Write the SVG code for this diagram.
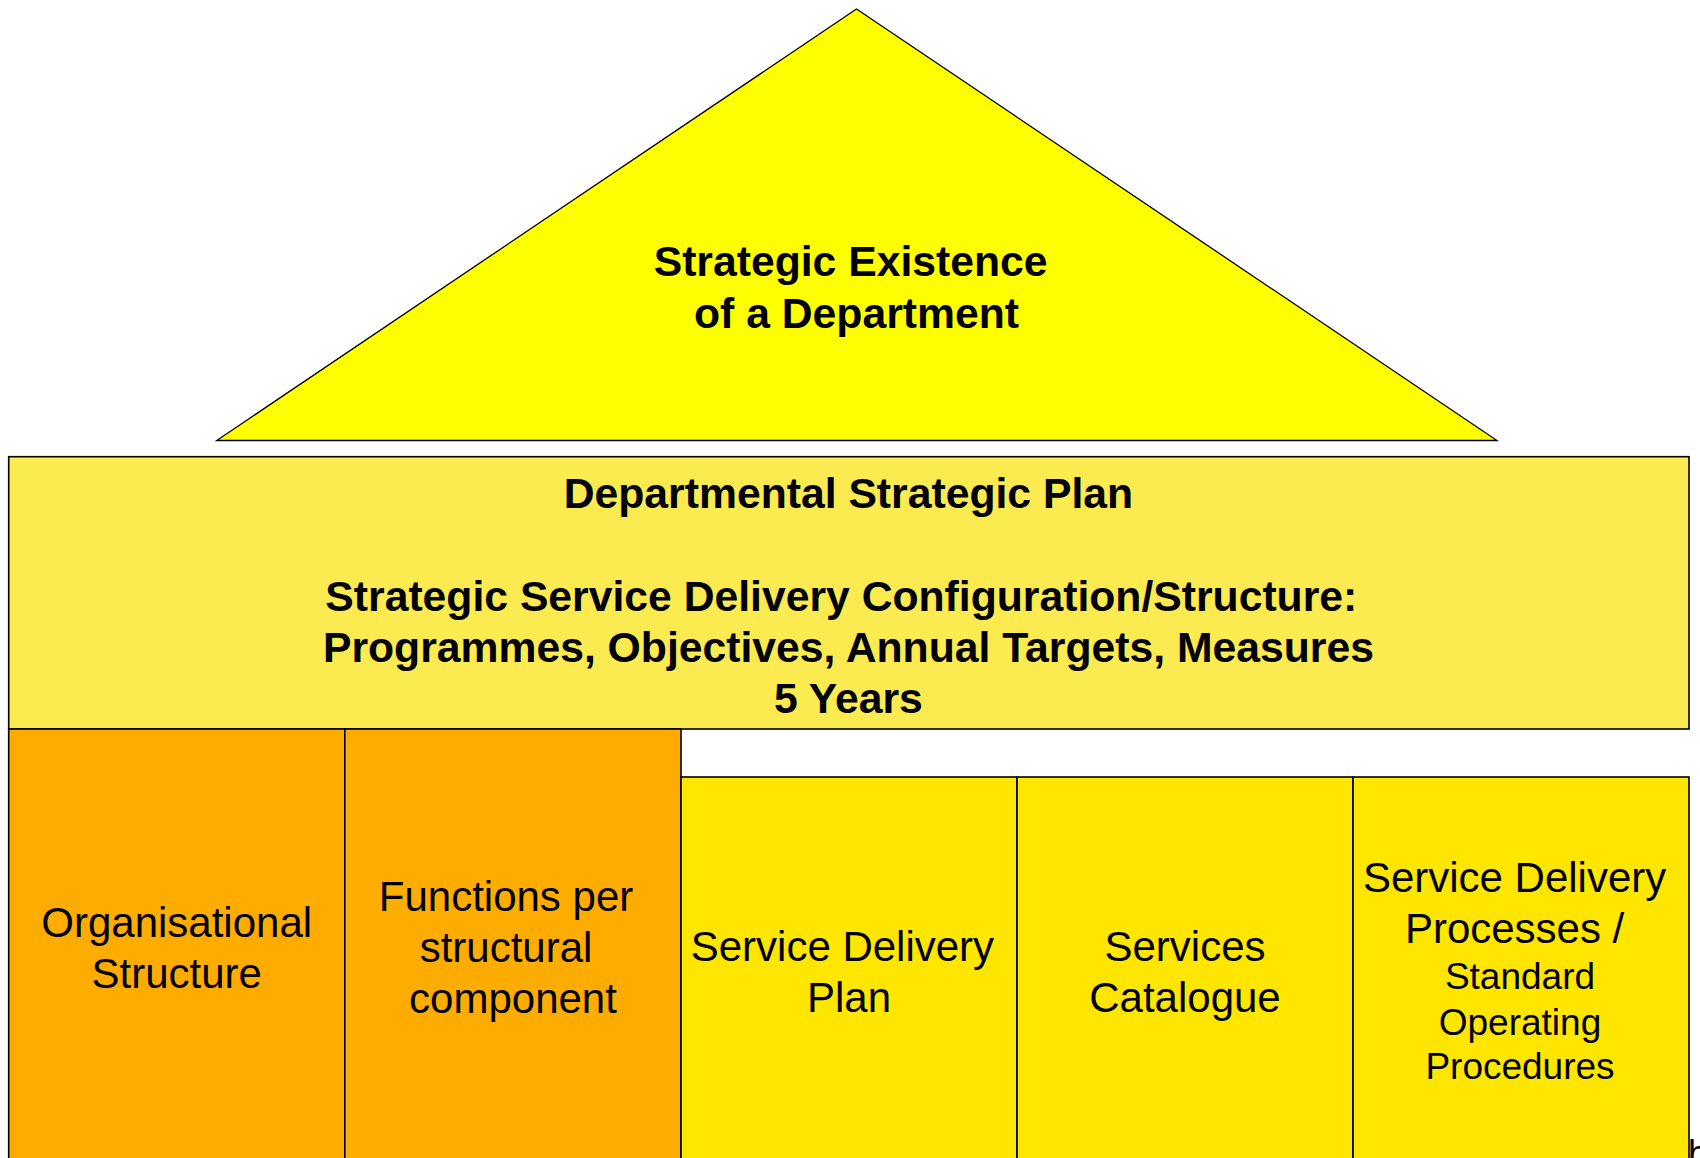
<svg xmlns="http://www.w3.org/2000/svg" width="1700" height="1158" viewBox="0 0 1700 1158">
<style>
  .box { stroke: #000; stroke-width: 1.6; }
  .b { font-family: "Liberation Sans", Arial, sans-serif; font-weight: bold; font-size: 42.7px; fill: #000; text-anchor: middle; }
  .r { font-family: "Liberation Sans", Arial, sans-serif; font-size: 42px; fill: #000; text-anchor: middle; }
  .s { font-family: "Liberation Sans", Arial, sans-serif; font-size: 37px; fill: #000; text-anchor: middle; }
</style>
<rect width="1700" height="1158" fill="#ffffff"/>
<g id="roof">
  <polygon points="856.5,9 1497,440.5 216.7,440.5" fill="#FFFF00" stroke="#000" stroke-width="1.3"/>
  <text class="b" x="850.6" y="276">Strategic Existence</text>
  <text class="b" x="856.5" y="328">of a Department</text>
</g>
<g id="banner">
  <rect class="box" x="8.7" y="456.7" width="1680.3" height="272.3" fill="#FBEA50"/>
  <text class="b" x="848.4" y="508">Departmental Strategic Plan</text>
  <text class="b" x="841.3" y="611">Strategic Service Delivery Configuration/Structure:</text>
  <text class="b" x="848.4" y="662">Programmes, Objectives, Annual Targets, Measures</text>
  <text class="b" x="848.4" y="713">5 Years</text>
</g>
<g id="organisational-structure">
  <rect class="box" x="8.7" y="729" width="336.1" height="440" fill="#FEAC00"/>
  <text class="r" x="176.7" y="937">Organisational</text>
  <text class="r" x="176.7" y="988">Structure</text>
</g>
<g id="functions">
  <rect class="box" x="344.8" y="729" width="336.2" height="440" fill="#FEAC00"/>
  <text class="r" x="506" y="911">Functions per</text>
  <text class="r" x="506" y="962">structural</text>
  <text class="r" x="513" y="1013">component</text>
</g>
<g id="service-delivery-plan">
  <rect class="box" x="681" y="777" width="336" height="392" fill="#FFE600"/>
  <text class="r" x="842.4" y="961">Service Delivery</text>
  <text class="r" x="849" y="1012">Plan</text>
</g>
<g id="services-catalogue">
  <rect class="box" x="1017" y="777" width="336" height="392" fill="#FFE600"/>
  <text class="r" x="1185" y="961">Services</text>
  <text class="r" x="1185" y="1012">Catalogue</text>
</g>
<g id="service-delivery-processes">
  <rect class="box" x="1353" y="777" width="336" height="392" fill="#FFE600"/>
  <text class="r" x="1514.6" y="892">Service Delivery</text>
  <text class="r" x="1514.6" y="943">Processes /</text>
  <text class="s" x="1520" y="989">Standard</text>
  <text class="s" x="1520" y="1034.5">Operating</text>
  <text class="s" x="1520" y="1079">Procedures</text>
</g>
<g id="connectors"></g>
<text x="1688" y="1166" font-family="Liberation Sans, Arial, sans-serif" font-size="36" fill="#000">b</text>
</svg>
